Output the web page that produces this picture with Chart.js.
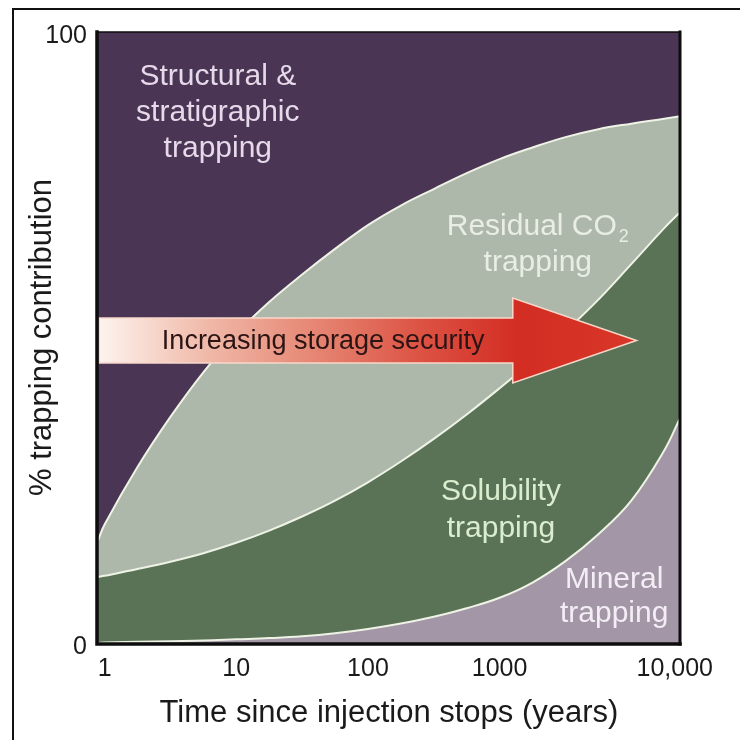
<!DOCTYPE html>
<html>
<head>
<meta charset="utf-8">
<style>
  html, body { margin: 0; padding: 0; background: #fff; overflow: hidden; }
  #frame { position: absolute; left: 12px; top: 8px; width: 800px; height: 800px; border: 2px solid #111; box-sizing: border-box; }
  #chart { position: absolute; left: 0; top: 0; }
</style>
<script src="https://cdn.jsdelivr.net/npm/chart.js@4.4.1/dist/chart.umd.min.js"></script>
</head>
<body>
<div id="frame"></div>
<canvas id="chart" width="740" height="740"></canvas>
<script>
// time axis position, in decades after year 1 (0 = 1 yr, 1 = 10 yr ...)
const xPos = [-0.05, 0, 0.25, 0.5, 0.75, 1, 1.25, 1.5, 1.75, 2, 2.25, 2.5, 2.75, 3, 3.25, 3.5, 3.75, 4, 4.25, 4.37];

// share of each trapping mechanism (%), stacked bottom to top
const mineral    = [0.0, 0.1, 0.2, 0.3, 0.4, 0.6, 0.8, 1.1, 1.6, 2.3, 3.2, 4.3, 5.7, 7.4, 9.9, 13.4, 17.8, 23.3, 31.5, 36.8];
const solubility = [10.8, 10.9, 11.9, 13.0, 14.3, 15.8, 17.6, 19.6, 21.7, 24.0, 26.5, 29.1, 31.7, 34.3, 36.3, 37.6, 38.4, 38.7, 36.4, 33.7];
const residual   = [6.0, 8.4, 16.7, 23.7, 29.6, 34.2, 37.4, 39.6, 41.2, 42.1, 41.9, 40.9, 39.5, 37.5, 34.9, 31.8, 27.9, 23.0, 17.9, 15.7];
const structural = [83.2, 80.6, 71.2, 63.0, 55.7, 49.4, 44.2, 39.7, 35.5, 31.6, 28.4, 25.7, 23.1, 20.8, 18.9, 17.2, 15.9, 15.0, 14.2, 13.8];

const xTickPos = [0, 1, 2, 3, 4.33];
const xTickLabels = ['1', '10', '100', '1000', '10,000'];
const yTickPos = [0, 100];
const yTickLabels = ['0', '100'];

const FONT = '"Liberation Sans", Arial, Helvetica, sans-serif';
Chart.defaults.font.family = FONT;
Chart.defaults.color = '#1a1a1a';

const LINE = '#eef3e6';

// text inside the areas (x in axis units, y in %, first baseline)
const regionLabels = [
  { lines: ['Structural &', 'stratigraphic', 'trapping'], x: 0.86, y: 91.3, lh: 36, color: '#e6d9ea' },
  { lines: ['Residual CO_2', 'trapping'], x: 3.29, y: 66.8, lh: 36, color: '#e9ede4' },
  { lines: ['Solubility', 'trapping'], x: 3.01, y: 23.4, lh: 37, color: '#dbedcf' },
  { lines: ['Mineral', 'trapping'], x: 3.87, y: 9.0, lh: 34, color: '#f3eef5' }
];

const arrow = { from: -0.04, headAt: 3.10, tip: 4.04, y: 49.5, band: 22.5, head: 42.5,
  text: 'Increasing storage security', textAt: 0.435 };

function series(label, values, fill, color, border) {
  return {
    label,
    data: xPos.map((x, i) => ({ x, y: values[i] })),
    fill,
    backgroundColor: color,
    borderColor: border || color,
    borderWidth: border ? 2 : 0,
    pointRadius: 0,
    tension: 0.4
  };
}

const decorPlugin = {
  id: 'decor',
  afterDatasetsDraw(chart) {
    const { ctx, chartArea: a, scales: { x, y } } = chart;
    ctx.save();

    // arrow
    const x0 = x.getPixelForValue(arrow.from);
    const xh = x.getPixelForValue(arrow.headAt);
    const xt = x.getPixelForValue(arrow.tip);
    const yc = y.getPixelForValue(arrow.y);
    const g = ctx.createLinearGradient(x0, 0, xt, 0);
    g.addColorStop(0, '#fdf3ef');
    g.addColorStop(0.08, '#f8dcd2');
    g.addColorStop(0.2, '#f0b9a9');
    g.addColorStop(0.4, '#e68673');
    g.addColorStop(0.6, '#dc5243');
    g.addColorStop(0.78, '#d32d23');
    g.addColorStop(1, '#d83727');
    ctx.beginPath();
    ctx.moveTo(x0, yc - arrow.band);
    ctx.lineTo(xh, yc - arrow.band);
    ctx.lineTo(xh, yc - arrow.head);
    ctx.lineTo(xt, yc);
    ctx.lineTo(xh, yc + arrow.head);
    ctx.lineTo(xh, yc + arrow.band);
    ctx.lineTo(x0, yc + arrow.band);
    ctx.closePath();
    ctx.fillStyle = g;
    ctx.fill();
    ctx.strokeStyle = '#f7d8ca';
    ctx.lineWidth = 1.5;
    ctx.lineJoin = 'miter';
    ctx.stroke();
    ctx.font = '27px ' + FONT;
    ctx.fillStyle = '#2b1414';
    ctx.textAlign = 'left';
    ctx.textBaseline = 'middle';
    ctx.fillText(arrow.text, x.getPixelForValue(arrow.textAt), yc + 1);

    // area labels
    ctx.textBaseline = 'alphabetic';
    regionLabels.forEach(lab => {
      const cx = x.getPixelForValue(lab.x);
      let by = y.getPixelForValue(lab.y);
      ctx.fillStyle = lab.color;
      lab.lines.forEach(line => {
        const [main, sub] = line.split('_');
        ctx.font = '30px ' + FONT;
        const wMain = ctx.measureText(main).width;
        let wSub = 0;
        if (sub) {
          ctx.font = '18px ' + FONT;
          wSub = ctx.measureText(sub).width + 2;
        }
        const left = cx - (wMain + wSub) / 2;
        ctx.font = '30px ' + FONT;
        ctx.fillText(main, left, by);
        if (sub) {
          ctx.font = '18px ' + FONT;
          ctx.fillText(sub, left + wMain + 2, by + 7);
        }
        by += lab.lh;
      });
    });

    // plot frame
    ctx.strokeStyle = '#0d0d0d';
    ctx.lineCap = 'square';
    ctx.lineWidth = 1.5;
    ctx.beginPath();
    ctx.moveTo(a.left, a.top); ctx.lineTo(a.right, a.top);
    ctx.stroke();
    ctx.lineWidth = 3.5;
    ctx.beginPath();
    ctx.moveTo(a.left - 1, a.top); ctx.lineTo(a.left - 1, a.bottom + 1); ctx.lineTo(a.right, a.bottom + 1);
    ctx.stroke();
    ctx.lineWidth = 3;
    ctx.beginPath();
    ctx.moveTo(a.right, a.top); ctx.lineTo(a.right, a.bottom + 1);
    ctx.stroke();
    ctx.restore();
  }
};

new Chart(document.getElementById('chart'), {
  type: 'line',
  data: {
    datasets: [
      series('Mineral trapping', mineral, 'origin', '#a396a6', LINE),
      series('Solubility trapping', solubility, '-1', '#5a7356', LINE),
      series('Residual CO2 trapping', residual, '-1', '#adb8aa', LINE),
      series('Structural & stratigraphic trapping', structural, '-1', '#4a3554', null)
    ]
  },
  options: {
    responsive: false,
    animation: false,
    devicePixelRatio: 1,
    layout: { padding: { top: 32, right: 60, left: 0, bottom: 0 } },
    plugins: { legend: { display: false }, tooltip: { enabled: false } },
    scales: {
      x: {
        type: 'linear',
        min: -0.05,
        max: 4.37,
        grid: { display: false, drawTicks: false },
        border: { display: false },
        afterBuildTicks: s => { s.ticks = xTickPos.map(v => ({ value: v })); },
        afterFit: s => { s.height = 97; },
        ticks: {
          padding: 11,
          maxRotation: 0,
          autoSkip: false,
          font: { size: 25 },
          color: '#1a1a1a',
          callback: (v, i) => xTickLabels[i]
        },
        title: {
          display: true,
          text: 'Time since injection stops (years)',
          font: { size: 31 },
          color: '#1a1a1a',
          padding: { top: 0, bottom: 8 }
        }
      },
      y: {
        stacked: true,
        min: 0,
        max: 100,
        grid: { display: false, drawTicks: false },
        border: { display: false },
        afterBuildTicks: s => { s.ticks = yTickPos.map(v => ({ value: v })); },
        afterFit: s => { s.width = 98; },
        ticks: {
          padding: 11,
          labelOffset: 4,
          font: { size: 25 },
          color: '#1a1a1a',
          callback: (v, i) => yTickLabels[i]
        },
        title: {
          display: true,
          text: '% trapping contribution',
          font: { size: 31 },
          color: '#1a1a1a',
          padding: { top: 24, bottom: 0 }
        }
      }
    }
  },
  plugins: [decorPlugin]
});
</script>
</body>
</html>
